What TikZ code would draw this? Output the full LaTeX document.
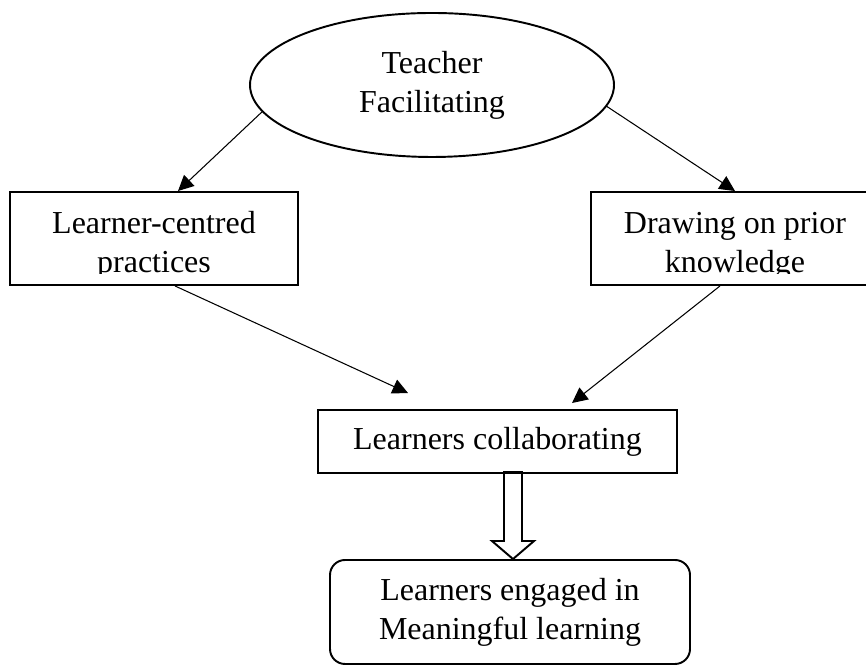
\documentclass[tikz,border=0pt]{standalone}
\usepackage{fontspec}
\setmainfont{Liberation Serif}
\usetikzlibrary{shapes, arrows.meta, positioning, calc}

\begin{document}
\begin{tikzpicture}[>={Triangle[length=0.31cm, width=0.3cm]},
    box/.style={draw, line width=1.1pt, minimum width=7.18cm, minimum height=1.26cm, inner sep=0pt},
    oval/.style={draw, ellipse, line width=1.1pt, minimum width=7.28cm, minimum height=2.88cm, inner sep=0pt},
    link/.style={->, line width=0.6pt},
    label/.style={align=center, font=\fontsize{18.2}{22.2}\selectfont}]

    % Page frame
    \useasboundingbox (0,0) rectangle (17.32,13.32);

    % Top: the teacher
    \node[oval, label] (teacher) at (8.64, 11.62) {Teacher\\Facilitating};

    % Second row, text cut off at the bottom of each box
    \node[box, minimum width=5.76cm, minimum height=1.86cm] (learner) at (3.08, 8.55) {};
    \node[box, minimum width=5.76cm, minimum height=1.86cm] (drawing) at (14.7, 8.55) {};
    \begin{scope}
        \clip (learner.north west) rectangle ($(learner.south east)+(0,0.24)$);
        \node[label] at ($(learner)+(0,-0.14)$) {Learner-centred\\practices};
    \end{scope}
    \begin{scope}
        \clip (drawing.north west) rectangle ($(drawing.south east)+(0,0.24)$);
        \node[label] at ($(drawing)+(0,-0.14)$) {Drawing on prior\\knowledge};
    \end{scope}

    % Third row and outcome
    \node[box, label] (collab) at (9.95, 4.49) {Learners collaborating};
    \node[box, label, minimum width=7.2cm, minimum height=2.08cm, rounded corners=0.3cm] (outcome) at (10.2, 1.08) {Learners engaged in\\Meaningful learning};

    % Arrow ends
    \coordinate (learnerTop) at ($(learner.north)+(0.48,0)$);
    \coordinate (learnerBot) at ($(learner.south)+(0.42,0)$);
    \coordinate (drawingBot) at ($(drawing.south)+(-0.3,0)$);
    \coordinate (collabL) at ($(collab.north)+(-1.79,0.32)$);
    \coordinate (collabR) at ($(collab.north)+(1.49,0.12)$);

    % Thin arrows
    \draw[link] (teacher.189) -- (learnerTop);
    \draw[link] (teacher.-7) -- (drawing.north);
    \draw[link] (learnerBot) -- (collabL);
    \draw[link] (drawingBot) -- (collabR);

    % Hollow block arrow down to the outcome
    \coordinate (tip) at ($(outcome.north)+(0.06,0)$);
    \draw[line width=1.1pt, line join=miter] (tip) -- ++(0.42,0.36) -- ++(-0.24,0) -- ++(0,1.38)
        -- ++(-0.36,0) -- ++(0,-1.38) -- ++(-0.24,0) -- cycle;

\end{tikzpicture}
\end{document}
